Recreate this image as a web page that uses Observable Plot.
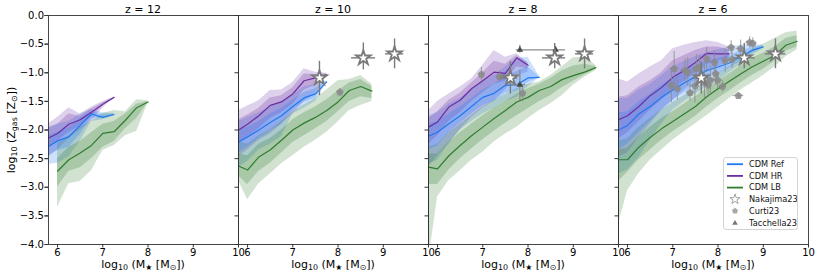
<!DOCTYPE html>
<html><head><meta charset="utf-8">
<script src="https://cdn.jsdelivr.net/npm/d3@7"></script>
<script src="https://cdn.jsdelivr.net/npm/@observablehq/plot@0.6"></script>
<style>
body{margin:0;background:#fff;font-family:"DejaVu Sans",sans-serif;}
#wrap{position:relative;width:830px;height:277px;}
#legend{position:absolute;left:723px;top:157px;width:75px;height:73px;border:1px solid #d4d4d4;border-radius:3px;background:rgba(255,255,255,0.85);box-sizing:border-box;}
</style></head><body><div id="wrap"></div>
<script>
// ---- categories / ticks ----
const zs = [12, 10, 8, 6];
const seriesNames = ["CDM Ref", "CDM HR", "CDM LB"];
const seriesColors = ["#1f78f2", "#6a2fa3", "#2f7d2f"];
const xTicks = [6, 7, 8, 9, 10];
const yTicks = [0, -0.5, -1, -1.5, -2, -2.5, -3, -3.5, -4];

// ---- simulation medians and percentile bands ----
const ref_z12 = {x:[5.8,6,6.25,6.5,6.75,7,7.25],
 med:[-2.29,-2.19,-2.12,-1.92,-1.72,-1.78,-1.73],
 lo68:[-2.45,-2.36,-2.3,-2.08,-1.79,-1.8,-1.74], hi68:[-2.1,-2.04,-1.96,-1.8,-1.68,-1.73,-1.72],
 lo95:[-2.6,-2.58,-2.47,-2.2,-1.85,-1.82,-1.75], hi95:[-1.95,-1.9,-1.85,-1.72,-1.64,-1.7,-1.71]};
const hr_z12 = {x:[5.8,6,6.25,6.5,6.75,7,7.25],
 med:[-2.14,-2.06,-1.9,-1.82,-1.69,-1.55,-1.43],
 lo68:[-2.3,-2.2,-2.04,-1.94,-1.77,-1.59,-1.43], hi68:[-1.97,-1.9,-1.72,-1.76,-1.63,-1.53,-1.43],
 lo95:[-2.47,-2.35,-2.15,-2.0,-1.85,-1.62,-1.43], hi95:[-1.89,-1.78,-1.61,-1.72,-1.6,-1.5,-1.43]};
const lb_z12 = {x:[6,6.25,6.5,6.75,7,7.25,7.5,7.75,8],
 med:[-2.72,-2.52,-2.40,-2.27,-2.06,-2.03,-1.83,-1.61,-1.51],
 lo68:[-3.0,-2.72,-2.66,-2.5,-2.3,-2.2,-1.98,-1.8,-1.52], hi68:[-2.5,-2.3,-2.2,-2.05,-1.9,-1.85,-1.72,-1.55,-1.5],
 lo95:[-3.35,-2.94,-2.9,-2.71,-2.36,-2.27,-2.1,-2.02,-1.53], hi95:[-2.24,-2.1,-1.95,-1.85,-1.71,-1.66,-1.68,-1.47,-1.49]};

const ref_z10 = {x:[5.8,6,6.25,6.5,6.75,7,7.25,7.5,7.75],
 med:[-2.21,-2.12,-2.0,-1.87,-1.75,-1.59,-1.44,-1.37,-1.16],
 lo68:[-2.4,-2.3,-2.15,-2.02,-1.9,-1.66,-1.52,-1.44,-1.17], hi68:[-2.0,-1.95,-1.85,-1.72,-1.62,-1.48,-1.35,-1.28,-1.15],
 lo95:[-2.65,-2.55,-2.35,-2.25,-2.12,-1.72,-1.62,-1.5,-1.18], hi95:[-1.85,-1.78,-1.7,-1.6,-1.5,-1.38,-1.25,-1.2,-1.14]};
const hr_z10 = {x:[5.8,6,6.25,6.5,6.75,7,7.25,7.5,7.75],
 med:[-2.0,-1.9,-1.75,-1.57,-1.51,-1.37,-1.14,-1.09,-1.03],
 lo68:[-2.25,-2.12,-1.98,-1.8,-1.7,-1.55,-1.3,-1.22,-1.04], hi68:[-1.82,-1.74,-1.62,-1.44,-1.4,-1.26,-1.02,-1.03,-1.02],
 lo95:[-2.47,-2.35,-2.18,-2.07,-1.9,-1.72,-1.5,-1.37,-1.05], hi95:[-1.66,-1.58,-1.49,-1.31,-1.3,-1.17,-0.93,-0.99,-1.01]};
const lb_z10 = {x:[5.8,6,6.25,6.5,6.75,7,7.25,7.5,7.75,8,8.25,8.5,8.75],
 med:[-2.63,-2.70,-2.47,-2.35,-2.18,-2.0,-1.88,-1.78,-1.66,-1.51,-1.31,-1.24,-1.32],
 lo68:[-2.8,-2.95,-2.72,-2.58,-2.4,-2.22,-2.1,-1.98,-1.85,-1.68,-1.5,-1.42,-1.45], hi68:[-2.42,-2.45,-2.25,-2.15,-2.0,-1.82,-1.7,-1.6,-1.47,-1.32,-1.18,-1.12,-1.24],
 lo95:[-2.88,-3.22,-2.94,-2.77,-2.59,-2.45,-2.3,-2.18,-2.04,-1.86,-1.66,-1.57,-1.5], hi95:[-2.2,-2.25,-2.1,-2.0,-1.85,-1.68,-1.56,-1.45,-1.3,-1.14,-1.12,-1.05,-1.2]};

const ref_z8 = {x:[5.8,6,6.25,6.5,6.75,7,7.25,7.5,7.75,8,8.25],
 med:[-2.11,-2.04,-1.89,-1.75,-1.59,-1.43,-1.36,-1.22,-1.21,-1.09,-1.08],
 lo68:[-2.35,-2.28,-2.05,-1.88,-1.72,-1.57,-1.5,-1.36,-1.32,-1.17,-1.085], hi68:[-1.9,-1.85,-1.72,-1.6,-1.45,-1.3,-1.2,-1.06,-0.98,-0.9,-1.07],
 lo95:[-2.6,-2.53,-2.24,-2.0,-1.85,-1.72,-1.62,-1.5,-1.43,-1.25,-1.09], hi95:[-1.75,-1.7,-1.55,-1.45,-1.3,-1.15,-1.05,-0.9,-0.75,-0.73,-1.06]};
const hr_z8 = {x:[5.8,6,6.25,6.5,6.75,7,7.25,7.5,7.75,8],
 med:[-1.95,-1.86,-1.60,-1.48,-1.28,-1.14,-0.99,-1.01,-0.74,-0.87],
 lo68:[-2.25,-2.1,-1.85,-1.7,-1.5,-1.35,-1.2,-1.15,-0.9,-0.93], hi68:[-1.8,-1.68,-1.48,-1.36,-1.18,-1.0,-0.8,-0.85,-0.7,-0.84],
 lo95:[-2.65,-2.45,-2.24,-2.0,-1.78,-1.62,-1.49,-1.3,-1.05,-0.99], hi95:[-1.66,-1.5,-1.37,-1.25,-1.11,-0.87,-0.61,-0.73,-0.67,-0.82]};
const lb_z8 = {x:[5.8,6,6.25,6.5,6.75,7,7.25,7.5,7.75,8,8.25,8.5,8.75,9,9.25,9.5],
 med:[-2.65,-2.68,-2.45,-2.27,-2.10,-1.95,-1.80,-1.66,-1.51,-1.43,-1.31,-1.24,-1.12,-1.05,-0.99,-0.91],
 lo68:[-2.95,-2.95,-2.7,-2.5,-2.33,-2.17,-2.02,-1.88,-1.75,-1.63,-1.5,-1.4,-1.26,-1.15,-1.04,-0.94], hi68:[-2.42,-2.42,-2.22,-2.05,-1.9,-1.75,-1.62,-1.5,-1.38,-1.28,-1.2,-1.1,-0.97,-0.88,-0.85,-0.89],
 lo95:[-4.3,-3.17,-2.88,-2.71,-2.53,-2.39,-2.21,-2.07,-1.95,-1.8,-1.66,-1.54,-1.40,-1.22,-1.08,-0.96], hi95:[-2.3,-2.25,-2.05,-1.9,-1.75,-1.6,-1.48,-1.38,-1.28,-1.2,-1.16,-1.05,-0.9,-0.74,-0.73,-0.87]};

const ref_z6 = {x:[5.8,6,6.25,6.5,6.75,7,7.25,7.5,7.75,8,8.25,8.5,8.75,9],
 med:[-2.0,-1.92,-1.72,-1.59,-1.43,-1.30,-1.18,-1.07,-0.96,-0.90,-0.83,-0.72,-0.61,-0.55],
 lo68:[-2.35,-2.25,-2.05,-1.85,-1.65,-1.48,-1.35,-1.22,-1.1,-1.02,-0.92,-0.8,-0.66,-0.56], hi68:[-1.7,-1.68,-1.5,-1.38,-1.22,-1.1,-0.98,-0.88,-0.8,-0.75,-0.7,-0.62,-0.56,-0.53],
 lo95:[-2.77,-2.7,-2.48,-2.18,-1.9,-1.65,-1.5,-1.37,-1.25,-1.14,-1.0,-0.85,-0.7,-0.58], hi95:[-1.45,-1.45,-1.3,-1.2,-1.05,-0.9,-0.8,-0.72,-0.65,-0.6,-0.55,-0.52,-0.5,-0.52]};
const hr_z6 = {x:[5.8,6,6.25,6.5,6.75,7,7.25,7.5,7.75,8,8.25],
 med:[-1.82,-1.75,-1.59,-1.40,-1.26,-1.08,-0.96,-0.82,-0.66,-0.67,-0.67],
 lo68:[-2.15,-2.05,-1.85,-1.65,-1.48,-1.3,-1.15,-1.0,-0.85,-0.8,-0.74], hi68:[-1.43,-1.4,-1.25,-1.14,-1.0,-0.79,-0.7,-0.61,-0.55,-0.55,-0.6],
 lo95:[-2.47,-2.4,-2.13,-1.9,-1.66,-1.49,-1.3,-1.14,-1.0,-0.9,-0.8], hi95:[-1.11,-1.16,-1.02,-0.9,-0.79,-0.58,-0.52,-0.47,-0.44,-0.47,-0.55]};
const lb_z6 = {x:[5.8,6,6.25,6.5,6.75,7,7.25,7.5,7.75,8,8.25,8.5,8.75,9,9.25,9.5,9.75],
 med:[-2.52,-2.52,-2.30,-2.13,-1.98,-1.85,-1.72,-1.59,-1.42,-1.28,-1.15,-1.02,-0.9,-0.8,-0.7,-0.52,-0.45],
 lo68:[-2.9,-2.74,-2.52,-2.35,-2.18,-2.03,-1.9,-1.76,-1.6,-1.45,-1.32,-1.18,-1.05,-0.94,-0.8,-0.62,-0.55], hi68:[-2.35,-2.32,-2.12,-1.95,-1.8,-1.68,-1.55,-1.42,-1.28,-1.15,-1.02,-0.88,-0.75,-0.66,-0.55,-0.4,-0.35],
 lo95:[-3.64,-3.06,-2.76,-2.53,-2.35,-2.18,-2.03,-1.89,-1.75,-1.6,-1.45,-1.3,-1.18,-1.05,-0.9,-0.72,-0.6], hi95:[-2.2,-2.15,-1.95,-1.8,-1.65,-1.52,-1.4,-1.28,-1.15,-1.02,-0.9,-0.75,-0.6,-0.5,-0.4,-0.3,-0.27]};

// ---- observations ----
const naka_z   = [10,10,10, 8,8,8, 6,6,6];
const naka_x   = [7.59,8.56,9.25, 7.61,8.59,9.25, 7.63,8.58,9.27];
const naka_y   = [-1.09,-0.74,-0.67, -1.09,-0.74,-0.67, -1.09,-0.74,-0.67];
const naka_ylo = [-1.40,-0.95,-0.93, -1.37,-0.93,-0.93, -1.37,-0.93,-0.93];
const naka_yhi = [-0.80,-0.48,-0.41, -0.81,-0.49,-0.41, -0.81,-0.49,-0.41];
const naka_xlo = [7.52,8.30,9.05, 7.40,8.32,9.05, 7.45,8.35,9.05];
const naka_xhi = [7.68,8.83,9.45, 7.77,8.83,9.45, 7.80,8.82,9.50];

const curti_z = [10, 8,8,8, 6,6,6,6,6,6,6,6,6,6,6,6,6,6,6,6,6,6,6,6,6,6,6,6,6];
const curti_x = [8.04, 6.97,7.37,7.88, 6.97,7.03,7.10,7.27,7.33,7.38,7.49,7.52,7.59,7.70,7.75,7.78,7.83,7.92,7.95,7.99,8.10,8.16,8.29,8.31,8.50,8.70,8.77,8.45,7.62];
const curti_y = [-1.34, -1.03,-1.07,-1.36, -1.22,-0.93,-1.28,-0.96,-0.99,-1.35,-1.23,-0.93,-0.90,-1.16,-0.76,-1.22,-1.13,-0.82,-1.02,-1.13,-1.24,-0.79,-0.56,-0.77,-0.58,-0.47,-0.49,-1.40,-1.05];
const curti_yerr = [0.06, 0.12,0.1,0.15, 0.3,0.3,0.2,0.2,0.25,0.15,0.3,0.25,0.2,0.3,0.2,0.2,0.25,0.2,0.2,0.15,0.1,0.2,0.12,0.15,0.15,0.1,0.1,0.05,0.2];
const curti_xerr = [0.04, 0.05,0.08,0.06, 0.08,0.1,0.08,0.1,0.1,0.08,0.1,0.08,0.1,0.1,0.08,0.1,0.08,0.1,0.08,0.1,0.08,0.08,0.08,0.1,0.1,0.08,0.08,0.12,0.1];

const tach_z   = [8, 8, 8];
const tach_x   = [7.82, 8.61, 7.82];
const tach_y   = [-0.60, -0.60, -1.21];
const tach_xlo = [7.74, 8.55, 7.60];
const tach_xhi = [8.83, 8.67, 7.95];
const tach_ylo = [-0.66, -0.66, -1.49];
const tach_yhi = [-0.52, -0.54, -0.95];

// ---- build tables ----
const models = [
  ["CDM HR", 12, hr_z12], ["CDM Ref", 12, ref_z12], ["CDM LB", 12, lb_z12],
  ["CDM HR", 10, hr_z10], ["CDM Ref", 10, ref_z10], ["CDM LB", 10, lb_z10],
  ["CDM HR", 8, hr_z8], ["CDM Ref", 8, ref_z8], ["CDM LB", 8, lb_z8],
  ["CDM HR", 6, hr_z6], ["CDM Ref", 6, ref_z6], ["CDM LB", 6, lb_z6]
];
const rows = [];
for (const [s, z, d] of models) {
  d.x.forEach((x, i) => rows.push({series: s, key: s + z, z, x, med: d.med[i],
    lo68: d.lo68[i], hi68: d.hi68[i], lo95: d.lo95[i], hi95: d.hi95[i]}));
}
const naka = naka_x.map((x, i) => ({z: naka_z[i], x, y: naka_y[i], ylo: naka_ylo[i], yhi: naka_yhi[i], xlo: naka_xlo[i], xhi: naka_xhi[i]}));
const curti = curti_x.map((x, i) => ({z: curti_z[i], x, y: curti_y[i], ylo: curti_y[i] - curti_yerr[i], yhi: curti_y[i] + curti_yerr[i], xlo: x - curti_xerr[i], xhi: x + curti_xerr[i]}));
const tach = tach_x.map((x, i) => ({z: tach_z[i], x, y: tach_y[i], ylo: tach_ylo[i], yhi: tach_yhi[i], xlo: tach_xlo[i], xhi: tach_xhi[i]}));

const pentagon = {
  draw(ctx, size) {
    const r = Math.sqrt(size / Math.PI) * 1.05;
    for (let i = 0; i < 5; i++) {
      const a = -Math.PI / 2 + i * 2 * Math.PI / 5;
      const px = r * Math.cos(a), py = r * Math.sin(a);
      if (i === 0) ctx.moveTo(px, py); else ctx.lineTo(px, py);
    }
    ctx.closePath();
  }
};

const fmtY = d => d.toFixed(1).replace("-", "\u2212");

const plot = Plot.plot({
  width: 830, height: 277,
  marginLeft: 47, marginRight: 21, marginTop: 15, marginBottom: 33,
  style: {fontFamily: "DejaVu Sans, sans-serif", fontSize: "10px", color: "#000", background: "white"},
  fx: {domain: zs, padding: 0, label: null, axis: null},
  x: {domain: [5.8, 10]},
  y: {domain: [-4, 0]},
  color: {domain: seriesNames, range: seriesColors},
  marks: [
    Plot.areaY(rows, {fx: "z", x: "x", y1: "lo95", y2: "hi95", z: "key", fill: "series", fillOpacity: 0.22, clip: true}),
    Plot.areaY(rows, {fx: "z", x: "x", y1: "lo68", y2: "hi68", z: "key", fill: "series", fillOpacity: 0.25, clip: true}),
    Plot.line(rows, {fx: "z", x: "x", y: "med", z: "key", stroke: "series", strokeWidth: 1.2, clip: true}),
    Plot.ruleX(curti, {fx: "z", x: "x", y1: "ylo", y2: "yhi", stroke: "#8a8a8a", strokeOpacity: 0.8, strokeWidth: 1}),
    Plot.ruleY(curti, {fx: "z", y: "y", x1: "xlo", x2: "xhi", stroke: "#8a8a8a", strokeOpacity: 0.8, strokeWidth: 1}),
    Plot.dot(curti, {fx: "z", x: "x", y: "y", symbol: pentagon, r: 3.8, fill: "#8a8a8a", fillOpacity: 0.85, stroke: "none"}),
    Plot.ruleX(tach, {fx: "z", x: "x", y1: "ylo", y2: "yhi", stroke: "#8a8a8a", strokeWidth: 1.2}),
    Plot.ruleY(tach, {fx: "z", y: "y", x1: "xlo", x2: "xhi", stroke: "#8a8a8a", strokeWidth: 1.2}),
    Plot.dot(tach, {fx: "z", x: "x", y: "y", symbol: "triangle", r: 2.4, fill: "#4a4a4a", stroke: "none"}),
    Plot.ruleX(naka, {fx: "z", x: "x", y1: "ylo", y2: "yhi", stroke: "#7a7a7a", strokeWidth: 1.4}),
    Plot.ruleY(naka, {fx: "z", y: "y", x1: "xlo", x2: "xhi", stroke: "#7a7a7a", strokeWidth: 1.4}),
    Plot.dot(naka, {fx: "z", x: "x", y: "y", symbol: "star", r: 4.6, fill: "white", stroke: "#7a7a7a", strokeWidth: 1.8}),
    Plot.frame({stroke: "#333", strokeWidth: 0.9}),
    Plot.axisX({ticks: xTicks, tickSize: 3.5, tickPadding: 0.5, label: null, tickFormat: d => String(d), stroke: "#333"}),
    Plot.axisY({ticks: yTicks, tickSize: 3.5, tickPadding: 1, label: null, tickFormat: fmtY, stroke: "#333"}),
    Plot.axisY({ticks: yTicks, tickSize: 3.5, tickPadding: 1, label: null, tickFormat: () => "", facetAnchor: null, stroke: "#333"})
  ]
});

document.getElementById("wrap").appendChild(plot);

// ---- rich text labels (subscripts) ----
const svg = d3.select(plot);
const fxs = plot.scale("fx");
function rich(sel, parts) {
  let shifted = false;
  for (const [t, sub] of parts) {
    const ts = sel.append("tspan").text(t);
    if (sub && !shifted) { ts.attr("dy", "0.28em").attr("font-size", "0.72em"); shifted = true; }
    else if (sub && shifted) { ts.attr("font-size", "0.72em"); }
    else if (!sub && shifted) { ts.attr("dy", "-0.2em"); shifted = false; }
  }
}
for (const z of zs) {
  const left = fxs.apply(z), bw = fxs.bandwidth;
  svg.append("text").attr("x", left + bw / 2).attr("y", 12.5)
    .attr("text-anchor", "middle").attr("font-size", 11).attr("font-weight", "normal").attr("font-family", "DejaVu Sans")
    .text(`z = ${z}`);
  const t = svg.append("text").attr("x", left + bw / 2).attr("y", 268)
    .attr("text-anchor", "middle").attr("font-size", 11).attr("font-family", "DejaVu Sans");
  rich(t, [["log"], ["10", 1], [" (M"], ["\u2605", 1], [" [M"], ["\u2299", 1], ["])"]]);
}
const yl = svg.append("text").attr("transform", "translate(15,130) rotate(-90)")
  .attr("text-anchor", "middle").attr("font-size", 11).attr("font-family", "DejaVu Sans");
rich(yl, [["log"], ["10", 1], [" (Z"], ["gas", 1], [" [Z"], ["\u2299", 1], ["])"]]);

// ---- legend ----
const leg = document.createElement("div");
leg.id = "legend";
const entries = [
  ["line", seriesColors[0], "CDM Ref"],
  ["line", seriesColors[1], "CDM HR"],
  ["line", seriesColors[2], "CDM LB"],
  ["star", "#9a9a9a", "Nakajima23"],
  ["pent", "#9a9a9a", "Curti23"],
  ["tri", "#777", "Tacchella23"]
];
let s = `<svg width="73" height="71" style="position:absolute;left:0;top:0;font-family:'DejaVu Sans';font-size:8.2px">`;
entries.forEach(([k, c, label], i) => {
  const cy = 6.2 + i * 11.7;
  if (k === "line") s += `<line x1="3" x2="19" y1="${cy}" y2="${cy}" stroke="${c}" stroke-width="1.8"/>`;
  if (k === "star") s += `<path transform="translate(11,${cy})" d="${d3.symbol(d3.symbolStar, 32)()}" fill="white" stroke="${c}" stroke-width="0.9"/>`;
  if (k === "pent") s += `<path transform="translate(11,${cy})" d="${d3.symbol(pentagon, 28)()}" fill="${c}" fill-opacity="0.85"/>`;
  if (k === "tri") s += `<path transform="translate(11,${cy + 0.5})" d="${d3.symbol(d3.symbolTriangle, 14)()}" fill="${c}"/>`;
  s += `<text x="25" y="${cy}" dy="0.35em" fill="#111">${label}</text>`;
});
s += `</svg>`;
leg.innerHTML = s;
document.getElementById("wrap").appendChild(leg);
</script></body></html>
